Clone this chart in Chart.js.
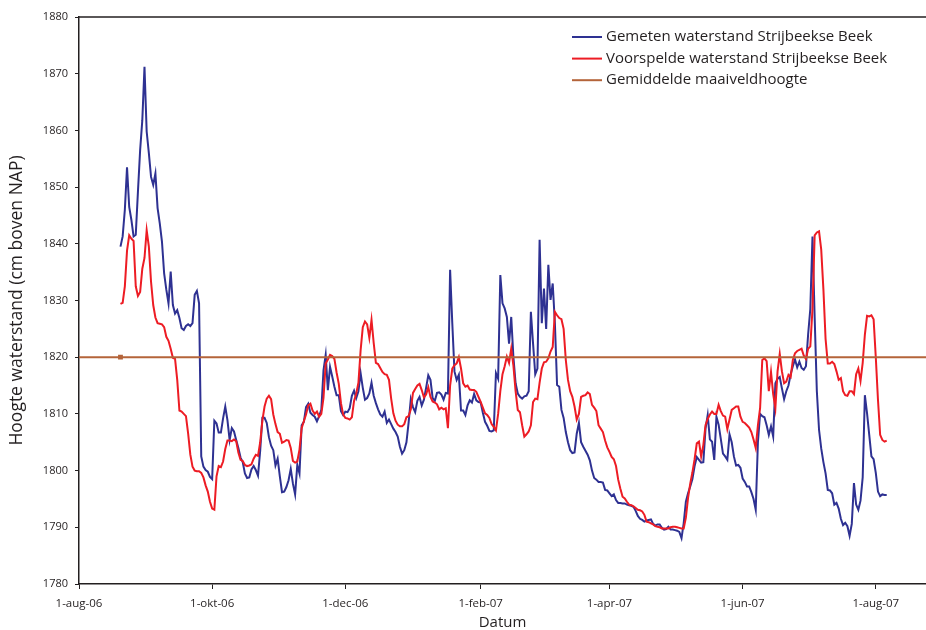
<!DOCTYPE html>
<html>
<head>
<meta charset="utf-8">
<title>Waterstand Strijbeekse Beek</title>
<script src="https://cdn.jsdelivr.net/npm/chart.js@4.4.1/dist/chart.umd.min.js"></script>
<style>
  html, body { margin: 0; padding: 0; background: #fff; }
  #wrap { width: 926px; height: 630px; }
</style>
</head>
<body>
<div id="wrap"><canvas id="waterChart" width="926" height="630"></canvas></div>
<script>
// Days are counted from 1 August 2006; one value per day from day 19 on
const firstDay = 19;
const axisEndDay = 388;
const tickDays = [0, 61, 122, 184, 243, 304, 365];
const tickLabels = ['1-aug-06', '1-okt-06', '1-dec-06', '1-feb-07', '1-apr-07', '1-jun-07', '1-aug-07'];
const surfaceLevel = 1820;

// Gemeten waterstand (cm boven NAP)
const measured = [
  1839.5, 1841.3, 1846, 1853.5, 1846.5, 1844.2, 1841.3, 1841.6, 1849.2, 1856.5,
  1861.8, 1871.2, 1859.8, 1856, 1851.8, 1850.4, 1852.4, 1846.3, 1843.6, 1840.4,
  1834.8, 1831.9, 1829.5, 1835.1, 1829.2, 1827.7, 1828.3, 1826.9, 1825.1, 1824.8,
  1825.5, 1825.8, 1825.5, 1826, 1831, 1831.7, 1829.5, 1802.5, 1800.7, 1800.1,
  1799.8, 1798.9, 1798.5, 1808.8, 1808.3, 1806.7, 1806.7, 1809.2, 1811.3, 1808.9,
  1805.4, 1807.5, 1806.9, 1805.4, 1804, 1802.3, 1801.5, 1799.5, 1798.7, 1798.8,
  1800.2, 1800.8, 1800.1, 1799.1, 1803.5, 1809.3, 1809.3, 1808.4, 1805.9, 1804.4,
  1803.6, 1800.9, 1802.1, 1799, 1796.2, 1796.3, 1797.1, 1798.3, 1800.3, 1797.7,
  1795.8, 1801, 1799.5, 1808, 1808.6, 1811.2, 1811.8, 1810.2, 1809.8, 1809.5,
  1808.7, 1809.6, 1810.7, 1817.7, 1820.4, 1814.2, 1818.3, 1816.6, 1814.8, 1813.3,
  1813.3, 1810.5, 1809.8, 1810.4, 1810.3, 1811, 1813.2, 1814.1, 1812.8, 1814,
  1817.2, 1814.6, 1812.5, 1812.8, 1813.6, 1815.5, 1813.2, 1811.9, 1810.8, 1809.9,
  1809.5, 1810.4, 1808.4, 1809, 1808.2, 1807.4, 1806.8, 1806, 1804.2, 1803,
  1803.6, 1805, 1808.5, 1812.6, 1811.2, 1810.3, 1812.3, 1813, 1811.5, 1812.5,
  1814.6, 1816.8, 1816, 1812.8, 1812.3, 1813.7, 1813.8, 1813.4, 1812.5, 1813.7,
  1813.6, 1835.4, 1826, 1817.5, 1816, 1816.9, 1810.6, 1810.6, 1809.8, 1811.5,
  1812.4, 1812, 1813.5, 1812.4, 1812.1, 1812, 1810.2, 1808.6, 1807.9, 1807,
  1806.9, 1807.1, 1817.2, 1816.2, 1834.5, 1829.5, 1828.6, 1827.1, 1822.4, 1827.1,
  1820, 1815.4, 1813.6, 1813, 1812.7, 1813.1, 1813.2, 1814, 1828, 1822.4,
  1817, 1818, 1840.7, 1826, 1832.1, 1825, 1836.3, 1830.1, 1833, 1826,
  1815.1, 1814.8, 1810.7, 1809.3, 1806.8, 1805, 1803.6, 1803.1, 1803.2, 1806.5,
  1808.4, 1805, 1804.2, 1803.5, 1802.8, 1801.8, 1800, 1798.7, 1798.4, 1798,
  1798, 1797.9, 1796.6, 1796.5, 1796, 1795.5, 1795.8, 1794.8, 1794.3, 1794.3,
  1794.2, 1794.2, 1794, 1793.9, 1793.8, 1793.6, 1792.9, 1792, 1791.5, 1791.3,
  1791, 1791.2, 1791.3, 1791.4, 1790.6, 1790.3, 1790.5, 1790.5, 1789.9, 1789.6,
  1789.7, 1790.1, 1789.6, 1789.6, 1789.5, 1789.4, 1789.2, 1788.1, 1790.7, 1794.5,
  1796, 1797.2, 1798.5, 1800.8, 1802.4, 1801.9, 1801.4, 1801.5, 1807.4, 1809.8,
  1805.5, 1805.1, 1801.9, 1809.5, 1808.1, 1805.6, 1803, 1802.5, 1801.9, 1806.4,
  1805, 1802.5, 1800.9, 1801, 1800.5, 1798.6, 1798, 1797.2, 1797.2, 1796.2,
  1795, 1793.1, 1805, 1810, 1809.6, 1809.4, 1808, 1806.3, 1807.8, 1806,
  1815.4, 1816.2, 1816.5, 1814.5, 1812.6, 1814, 1815, 1817, 1818.4, 1819.6,
  1818.2, 1819.2, 1818.1, 1817.8, 1818.4, 1824, 1828.5, 1841.3, 1827, 1814,
  1807.2, 1803.9, 1801.5, 1799.5, 1796.6, 1796.5, 1796, 1794, 1794.3, 1793.3,
  1791.5, 1790.4, 1790.8, 1790.2, 1788.5, 1790.6, 1797.8, 1794, 1793.1, 1794.7,
  1798.8, 1813.3, 1810.1, 1806.3, 1802.5, 1802, 1799.6, 1796.3, 1795.5, 1795.8,
  1795.7, 1795.7
];

// Voorspelde waterstand (cm boven NAP)
const predicted = [
  1829.4, 1829.6, 1832.5, 1838.8, 1841.5, 1840.9, 1840.5, 1832.5, 1830.8, 1831.5,
  1835.6, 1837.5, 1842.4, 1839.5, 1833.3, 1829.2, 1827, 1826, 1825.9, 1825.8,
  1825.3, 1823.6, 1822.9, 1821.5, 1819.9, 1819.7, 1816, 1810.6, 1810.4, 1810,
  1809.6, 1806.5, 1802.8, 1800.7, 1800, 1799.9, 1799.9, 1799.6, 1798.8, 1797.4,
  1796.3, 1794.5, 1793.3, 1793.1, 1799, 1800.8, 1800.6, 1801.6, 1803.8, 1805.3,
  1805.3, 1805.2, 1805.5, 1805.2, 1803.2, 1801.9, 1801.7, 1801, 1800.8, 1800.9,
  1801.1, 1802.1, 1802.8, 1802.6, 1805, 1808.8, 1811.3, 1812.7, 1813.2, 1812.6,
  1809.9, 1808.2, 1806.8, 1806.5, 1804.9, 1805.1, 1805.4, 1805.3, 1804, 1801.7,
  1801.4, 1801.6, 1803.7, 1807.5, 1808.7, 1809.9, 1811.5, 1811.8, 1810.6, 1810,
  1810.4, 1809.5, 1810, 1812.8, 1818.9, 1819.6, 1820.4, 1820.2, 1819.7, 1817.3,
  1815.3, 1811.9, 1809.9, 1809.3, 1809.2, 1809, 1809.4, 1812.3, 1813.6, 1815.5,
  1821.2, 1825.3, 1826.3, 1825.8, 1823.4, 1826.6, 1822.5, 1819, 1818.8, 1818.1,
  1817.4, 1817, 1816.9, 1816, 1812.7, 1810.1, 1808.8, 1808.1, 1807.8, 1807.8,
  1808.2, 1809.4, 1809.6, 1810.8, 1813.7, 1814.4, 1815, 1815.3, 1814.2, 1812.9,
  1813.4, 1814.7, 1813, 1812.2, 1812, 1811.7, 1810.8, 1811.1, 1810.8, 1811,
  1807.5, 1815, 1818, 1818.6, 1818.9, 1820, 1818, 1815.4, 1814.8, 1815,
  1814.3, 1814.2, 1814.2, 1813.9, 1813, 1812.1, 1811.1, 1810.1, 1809.8, 1809.3,
  1808.2, 1807.7, 1807.1, 1810, 1814, 1817, 1818.4, 1820.1, 1819, 1821.5,
  1818.5, 1814, 1810.7, 1810.3, 1808, 1806, 1806.4, 1806.9, 1808, 1812.1,
  1812.7, 1812.6, 1815.5, 1818, 1819.1, 1819.2, 1819.8, 1821, 1821.8, 1828,
  1827.4, 1826.9, 1826.7, 1825, 1819.5, 1816, 1814, 1813, 1811.3, 1809,
  1810, 1813, 1813.2, 1813.3, 1813.8, 1813.5, 1811.6, 1811.1, 1810.5, 1808,
  1807.4, 1806.8, 1805.3, 1804.1, 1803.3, 1802.4, 1802, 1800.8, 1798.4, 1796.8,
  1795.4, 1795.1, 1794.5, 1794, 1793.9, 1793.7, 1793.4, 1793.1, 1793, 1792.8,
  1792.2, 1791, 1790.9, 1790.7, 1790.5, 1790.2, 1790.1, 1790, 1789.8, 1789.8,
  1789.8, 1789.8, 1790, 1790.1, 1790.1, 1790, 1789.9, 1789.8, 1789.8, 1791.7,
  1795.2, 1797.7, 1799.7, 1802, 1804.8, 1805.1, 1802.5, 1804.5, 1808, 1809.1,
  1809.9, 1810.4, 1810, 1810, 1811.6, 1810.5, 1809.7, 1809.5, 1807.3, 1809,
  1810.7, 1811, 1811.3, 1811.3, 1809.5, 1808.6, 1808.4, 1808, 1807.6, 1806.8,
  1805.5, 1804, 1808, 1811, 1819.5, 1819.8, 1819.3, 1814, 1817.4, 1813.5,
  1811, 1817.5, 1820.6, 1817.5, 1815.4, 1815.7, 1816.9, 1816.5, 1819.5, 1820.7,
  1821.1, 1821.3, 1821.5, 1820.3, 1819.7, 1821.5, 1821.9, 1828.5, 1841.5, 1842,
  1842.2, 1839, 1832, 1823.2, 1818.9, 1818.9, 1819.2, 1818.8, 1817.5, 1816,
  1816.3, 1814, 1813.3, 1813.2, 1814, 1814, 1813.5, 1817, 1818, 1815.8,
  1819, 1824, 1827.3, 1827.2, 1827.4, 1826.7, 1820, 1812.5, 1806.3, 1805.4,
  1805.1, 1805.3
];

const inkColor = '#231f20';
const fontFamily = '"Open Sans", "DejaVu Sans", sans-serif';

const toPoints = values => values.map((v, i) => ({ x: firstDay + i, y: v }));

// top edge of the plot area
const plotFrame = {
  id: 'plotFrame',
  afterDatasetsDraw(chart) {
    const { ctx, chartArea } = chart;
    ctx.save();
    ctx.strokeStyle = inkColor;
    ctx.lineWidth = 1.5;
    ctx.beginPath();
    ctx.moveTo(chartArea.left, chartArea.top);
    ctx.lineTo(chartArea.right, chartArea.top);
    ctx.stroke();
    ctx.restore();
  }
};

// stacked legend in the upper right corner of the plot
const lineLegend = {
  id: 'lineLegend',
  afterDraw(chart) {
    const { ctx, chartArea } = chart;
    const x0 = chartArea.right - 354;
    let y = chartArea.top + 20;
    ctx.save();
    ctx.font = '15px ' + fontFamily;
    ctx.textBaseline = 'middle';
    ctx.textAlign = 'left';
    chart.data.datasets.forEach(ds => {
      ctx.strokeStyle = ds.borderColor;
      ctx.lineWidth = 2;
      ctx.beginPath();
      ctx.moveTo(x0, y);
      ctx.lineTo(x0 + 30, y);
      ctx.stroke();
      ctx.fillStyle = inkColor;
      ctx.fillText(ds.label, x0 + 34, y);
      y += 21.6;
    });
    ctx.restore();
  }
};

Chart.defaults.font.family = fontFamily;

const ctx = document.getElementById('waterChart').getContext('2d');
new Chart(ctx, {
  type: 'line',
  data: {
    datasets: [
      {
        label: 'Gemeten waterstand Strijbeekse Beek',
        data: toPoints(measured),
        borderColor: '#2e3192',
        borderWidth: 2,
        pointRadius: 0,
        tension: 0,
        order: 2
      },
      {
        label: 'Voorspelde waterstand Strijbeekse Beek',
        data: toPoints(predicted),
        borderColor: '#ed1c24',
        borderWidth: 2,
        pointRadius: 0,
        tension: 0,
        order: 1
      },
      {
        label: 'Gemiddelde maaiveldhoogte',
        data: [
          { x: 0, y: surfaceLevel },
          { x: firstDay, y: surfaceLevel },
          { x: axisEndDay, y: surfaceLevel }
        ],
        borderColor: '#b4643a',
        backgroundColor: '#b4643a',
        borderWidth: 2,
        pointRadius: [0, 2, 0],
        pointStyle: 'rect',
        order: 0
      }
    ]
  },
  options: {
    responsive: false,
    animation: false,
    devicePixelRatio: 1,
    layout: { padding: { top: 17, right: 0, bottom: 0, left: 0 } },
    plugins: {
      legend: { display: false },
      tooltip: { enabled: false }
    },
    scales: {
      x: {
        type: 'linear',
        min: 0,
        max: axisEndDay,
        afterBuildTicks: scale => { scale.ticks = tickDays.map(v => ({ value: v })); },
        afterFit: scale => { scale.height = 46; },
        ticks: {
          callback: (value, index) => tickLabels[index],
          autoSkip: false,
          maxRotation: 0,
          color: inkColor,
          font: { size: 11.5 },
          padding: 8
        },
        grid: { drawOnChartArea: false, drawTicks: true, tickLength: 5, color: inkColor, lineWidth: 1 },
        border: { color: inkColor, width: 1.5 },
        title: {
          display: true,
          text: 'Datum',
          color: inkColor,
          font: { size: 15, lineHeight: 1 },
          padding: { top: 0, bottom: 0 }
        }
      },
      y: {
        min: 1780,
        max: 1880,
        afterFit: scale => { scale.width = 79; },
        ticks: {
          stepSize: 10,
          callback: value => String(value),
          color: inkColor,
          font: { size: 11 },
          padding: 7
        },
        grid: { drawOnChartArea: false, drawTicks: true, tickLength: 4, color: inkColor, lineWidth: 1 },
        border: { color: inkColor, width: 1.5 },
        title: {
          display: true,
          text: 'Hoogte waterstand (cm boven NAP)',
          color: inkColor,
          font: { size: 17.5 },
          padding: { top: 7, bottom: 0 }
        }
      }
    }
  },
  plugins: [plotFrame, lineLegend]
});
</script>
</body>
</html>
